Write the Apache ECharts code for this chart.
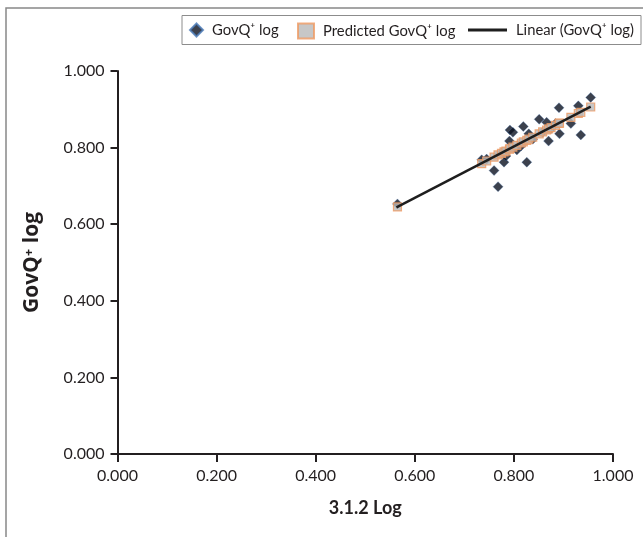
<!DOCTYPE html>
<html>
<head>
<meta charset="utf-8">
<script src="https://cdn.jsdelivr.net/npm/echarts@6/dist/echarts.min.js"></script>
<style>
  html, body { margin: 0; padding: 0; background: #fff; }
  #chart { width: 643px; height: 537px; }
</style>
</head>
<body>
<div id="chart"></div>
<script>
// Observed values: 3.1.2 Log (x) against GovQ+ log (y)
const obsX = [0.565, 0.735, 0.745, 0.760, 0.768, 0.775, 0.780, 0.784, 0.791, 0.792,
              0.798, 0.806, 0.815, 0.819, 0.826, 0.830, 0.838, 0.851, 0.858, 0.866,
              0.870, 0.875, 0.884, 0.891, 0.892, 0.915, 0.930, 0.935, 0.955];
const obsY = [0.653, 0.768, 0.770, 0.740, 0.698, 0.785, 0.762, 0.778, 0.817, 0.846,
              0.840, 0.794, 0.805, 0.855, 0.762, 0.836, 0.822, 0.874, 0.840, 0.866,
              0.817, 0.850, 0.863, 0.904, 0.836, 0.863, 0.909, 0.833, 0.931];
// Fitted (predicted) GovQ+ log at each observed x
const predY = [0.645, 0.758, 0.765, 0.775, 0.781, 0.785, 0.789, 0.791, 0.796, 0.797,
               0.801, 0.806, 0.812, 0.815, 0.819, 0.822, 0.827, 0.836, 0.841, 0.846,
               0.849, 0.852, 0.858, 0.863, 0.864, 0.879, 0.889, 0.892, 0.906];
// Linear trendline end points
const trendX = [0.563, 0.955];
const trendY = [0.644, 0.907];

const FONT = 'Lato, "Open Sans", sans-serif';
const INK = '#231f20';

const zip = (a, b) => a.map((v, i) => [v, b[i]]);

const chart = echarts.init(document.getElementById('chart'), null, { renderer: 'canvas' });

const legendText = { fontFamily: FONT, fontSize: 14.8, color: INK, padding: [0, 0, 0, 4] };

chart.setOption({
  animation: false,
  backgroundColor: '#ffffff',
  graphic: [
    { type: 'rect', silent: true, z: -1,
      shape: { x: 6, y: 8, width: 660, height: 560 },
      style: { fill: 'none', stroke: '#888888', lineWidth: 1.5 } },
    { type: 'rect', silent: true, z: -1,
      shape: { x: 182, y: 15.5, width: 459, height: 29 },
      style: { fill: '#ffffff', stroke: '#8c8c8c', lineWidth: 1 } }
  ],
  legend: [
    { data: ['GovQ⁺ log'], left: 189, top: 22.5, itemWidth: 13, itemHeight: 13,
      itemGap: 0, textStyle: legendText, padding: 0 },
    { data: ['Predicted GovQ⁺ log'], left: 297, top: 22.5, itemWidth: 16, itemHeight: 15,
      itemGap: 0, textStyle: legendText, padding: 0 },
    { data: [{ name: 'Linear (GovQ⁺ log)', icon: 'rect' }], left: 468, top: 22.5,
      itemWidth: 39, itemHeight: 3, itemGap: 0, textStyle: legendText, padding: 0 }
  ],
  grid: { left: 117.5, right: 30, top: 71, bottom: 83, containLabel: false },
  xAxis: {
    type: 'value', min: 0, max: 1, interval: 0.2,
    name: '3.1.2 Log', nameLocation: 'middle', nameGap: 45,
    nameTextStyle: { fontFamily: FONT, fontSize: 18, fontWeight: 'bold', color: INK },
    axisLine: { show: true, lineStyle: { color: INK, width: 2 } },
    axisTick: { show: true, inside: false, length: 8, lineStyle: { color: INK, width: 2 } },
    axisLabel: { fontFamily: FONT, fontSize: 16, color: INK, margin: 14,
                 formatter: v => v.toFixed(3), showMaxLabel: true, showMinLabel: true },
    splitLine: { show: false }
  },
  yAxis: {
    type: 'value', min: 0, max: 1, interval: 0.2,
    name: 'GovQ⁺ log', nameLocation: 'middle', nameGap: 75, nameRotate: 90,
    nameTextStyle: { fontFamily: '"Open Sans", Lato, sans-serif', fontSize: 21,
                     fontWeight: 'bold', color: INK },
    axisLine: { show: true, lineStyle: { color: INK, width: 2 } },
    axisTick: { show: true, inside: false, length: 7, lineStyle: { color: INK, width: 2 } },
    axisLabel: { fontFamily: FONT, fontSize: 16, color: INK, margin: 13,
                 formatter: v => v.toFixed(3) },
    splitLine: { show: false }
  },
  series: [
    {
      name: 'GovQ⁺ log', type: 'scatter', symbol: 'diamond', symbolSize: 10, z: 2,
      itemStyle: { color: '#0b1220', borderColor: '#4a7ab8', borderWidth: 0.4 },
      data: zip(obsX, obsY)
    },
    {
      name: 'Predicted GovQ⁺ log', type: 'scatter', symbol: 'rect', symbolSize: 8, z: 3,
      itemStyle: { color: '#b9b9b9', borderColor: '#ef9a62', borderWidth: 1.2 },
      data: zip(obsX, predY)
    },
    {
      name: 'Linear (GovQ⁺ log)', type: 'line', symbol: 'none', z: 4,
      lineStyle: { color: '#1e1e1e', width: 2.5 },
      itemStyle: { color: '#1e1e1e' },
      data: zip(trendX, trendY)
    }
  ]
});
</script>
</body>
</html>
